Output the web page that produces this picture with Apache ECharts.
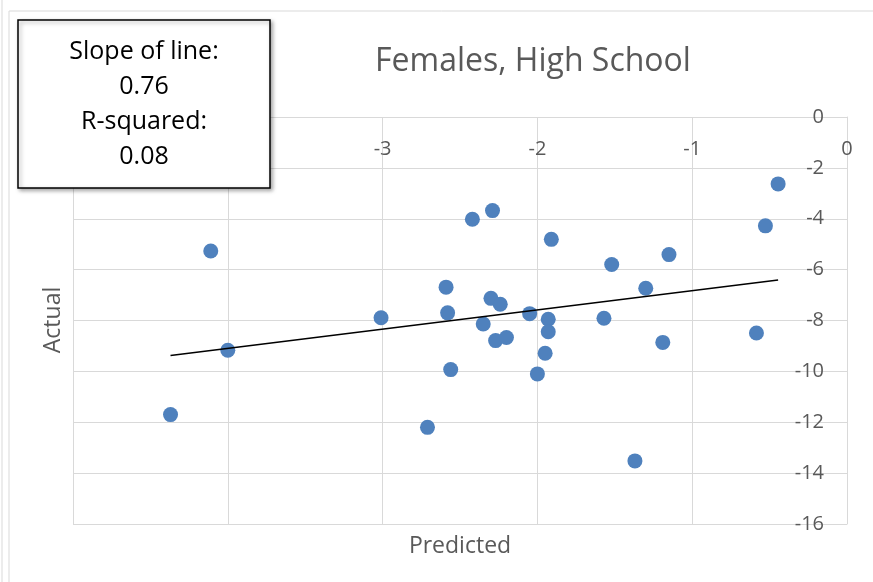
<!DOCTYPE html>
<html>
<head>
<meta charset="utf-8">
<script src="https://cdn.jsdelivr.net/npm/echarts@6/dist/echarts.min.js"></script>
<style>
html,body{margin:0;padding:0;background:#fff;}
#chart{width:873px;height:582px;}
</style>
</head>
<body>
<div id="chart"></div>
<script>
// ---- data ----
var titleText = 'Females, High School';
var xAxisName = 'Predicted';
var yAxisName = 'Actual';
var boxLines = ['Slope of line:', '0.76', 'R-squared:', '0.08'];

var predicted = [-4.11, -4.00, -4.37, -3.01, -2.42, -2.59, -2.58, -2.56, -2.71, -2.29,
                 -1.91, -2.30, -2.24, -2.35, -2.05, -1.93, -1.93, -2.27, -2.20, -1.95,
                 -2.00, -1.52, -1.30, -1.15, -1.57, -1.19, -1.37, -0.445, -0.527, -0.585];
var actual    = [-5.27, -9.17, -11.70, -7.89, -4.02, -6.69, -7.70, -9.93, -12.20, -3.68,
                 -4.81, -7.13, -7.36, -8.14, -7.73, -7.95, -8.44, -8.79, -8.67, -9.29,
                 -10.10, -5.80, -6.73, -5.41, -7.91, -8.86, -13.52, -2.63, -4.28, -8.49];
var trendX = [-4.37, -0.445];
var trendY = [-9.38, -6.41];

var xMin = -5, xMax = 0, xStep = 1;
var yMin = -16, yMax = 0, yStep = 2;

// ---- chart ----
var FONT = '"Open Sans"';
var TXT = '#595959';
var GRID = '#d9d9d9';

var pts = predicted.map(function (x, i) { return [x, actual[i]]; });
var trend = trendX.map(function (x, i) { return [x, trendY[i]]; });

var chart = echarts.init(document.getElementById('chart'), null, {renderer: 'canvas'});

var boxTexts = boxLines.map(function (t, i) {
  return {
    type: 'text', z: 1001, zlevel: 1,
    style: {text: t, x: 144, y: 52 + i * 35, align: 'center', verticalAlign: 'middle',
            font: '25px ' + FONT, fill: '#000'}
  };
});

chart.setOption({
  animation: false,
  backgroundColor: '#fff',
  textStyle: {fontFamily: FONT},
  grid: {left: 73, right: 26, top: 117, bottom: 58, containLabel: false},
  xAxis: {
    type: 'value', min: xMin, max: xMax, interval: xStep, position: 'top',
    axisLine: {show: true, onZero: false, lineStyle: {color: GRID, width: 1}},
    axisTick: {show: false},
    axisLabel: {inside: true, margin: 22, color: TXT, fontSize: 20, fontFamily: 'Open Sans'},
    splitLine: {show: true, lineStyle: {color: GRID, width: 1}}
  },
  yAxis: {
    type: 'value', min: yMin, max: yMax, interval: yStep, position: 'right',
    axisLine: {show: true, onZero: false, lineStyle: {color: GRID, width: 1}},
    axisTick: {show: false},
    axisLabel: {inside: true, margin: 23, color: TXT, fontSize: 20, fontFamily: 'Open Sans'},
    splitLine: {show: true, lineStyle: {color: GRID, width: 1}}
  },
  series: [
    {
      type: 'scatter', data: pts, symbolSize: 15,
      itemStyle: {color: '#4F81BD', opacity: 1}, z: 3
    },
    {
      type: 'line', data: trend, symbol: 'none', silent: true,
      lineStyle: {color: '#000', width: 1.5}, z: 4
    }
  ],
  graphic: [
    {type: 'rect', shape: {x: 9, y: 11, width: 900, height: 600},
     style: {fill: 'none', stroke: GRID, lineWidth: 1}, z: 0, silent: true},
    {type: 'line', shape: {x1: 2, y1: 0, x2: 2, y2: 582},
     style: {stroke: GRID, lineWidth: 1}, z: 0, silent: true},
    {type: 'text', style: {text: titleText, x: 533, y: 62, align: 'center', verticalAlign: 'middle',
      font: '32px ' + FONT, fill: TXT}},
    {type: 'text', style: {text: xAxisName, x: 460, y: 546, align: 'center', verticalAlign: 'middle',
      font: '23px ' + FONT, fill: TXT}},
    {type: 'text', rotation: Math.PI / 2, x: 53, y: 320,
      style: {text: yAxisName, x: 0, y: 0, align: 'center', verticalAlign: 'middle',
      font: '23px ' + FONT, fill: TXT}},
    {type: 'rect', z: 1000, zlevel: 1, shape: {x: 18, y: 20, width: 252, height: 168},
     style: {fill: '#fff', stroke: '#000', lineWidth: 1.5,
             shadowBlur: 4, shadowOffsetX: 2, shadowOffsetY: 2, shadowColor: 'rgba(0,0,0,0.35)'}}
  ].concat(boxTexts)
});
</script>
</body>
</html>
